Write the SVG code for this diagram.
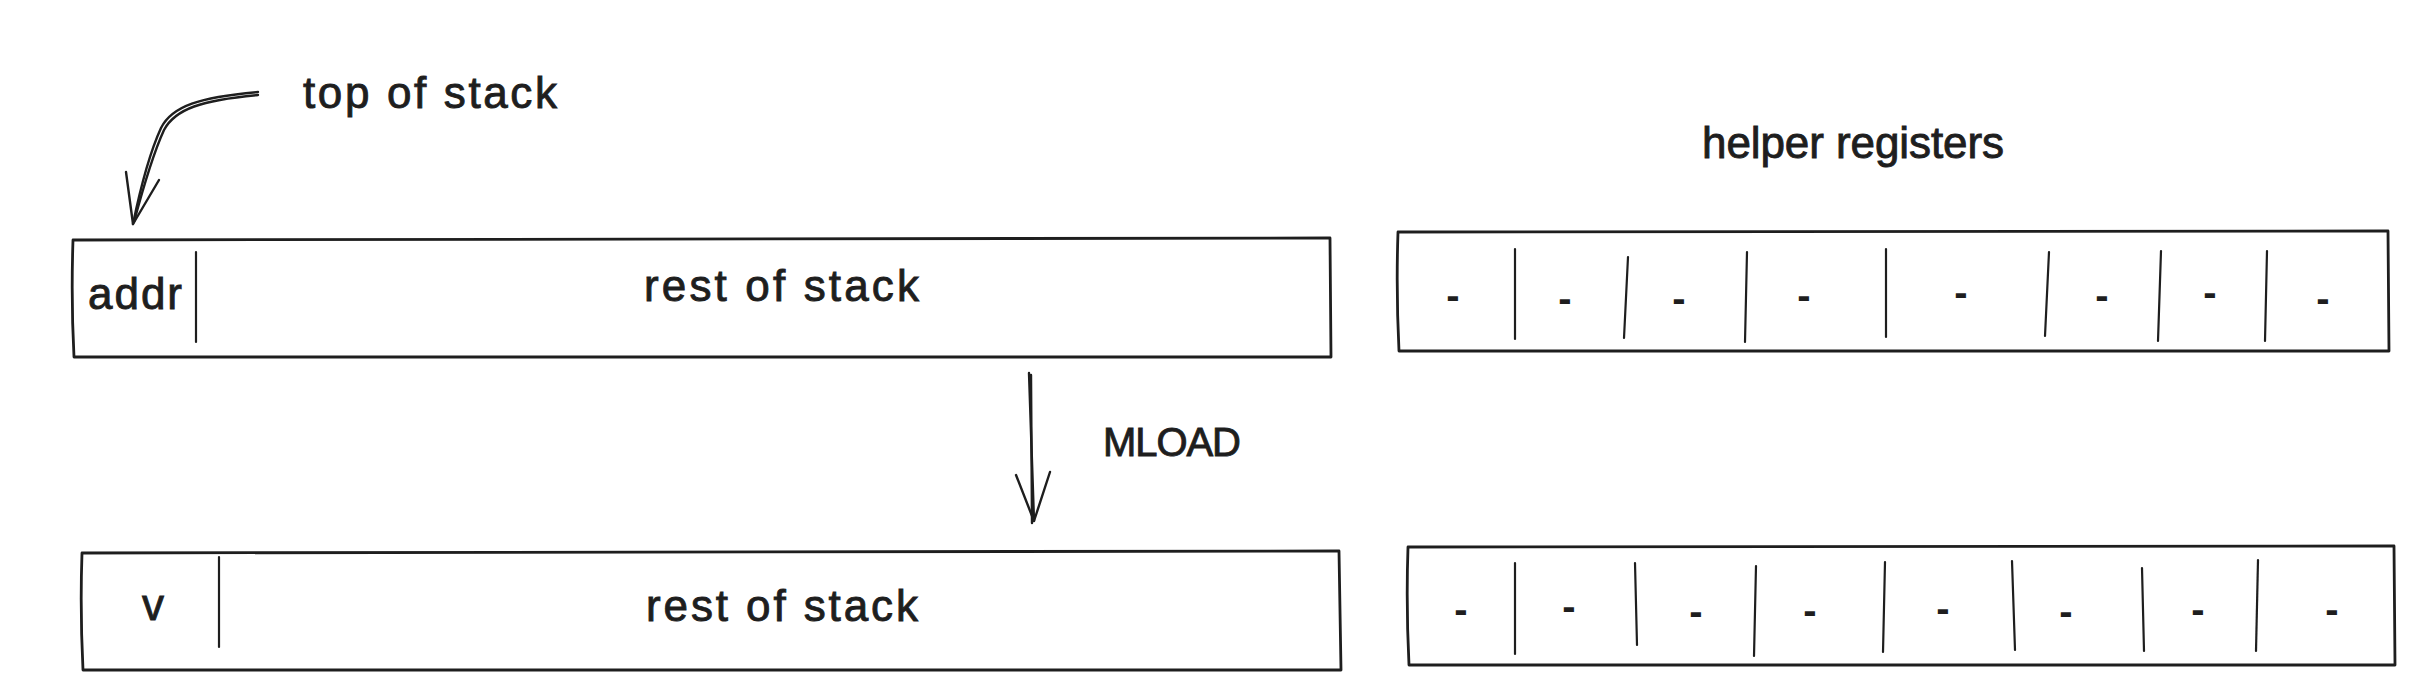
<svg xmlns="http://www.w3.org/2000/svg" width="2415" height="690" viewBox="0 0 2415 690">
<style>
.box{fill:none;stroke:#1e1e1e;stroke-width:2.8;stroke-linejoin:round}
.div{fill:none;stroke:#1e1e1e;stroke-width:2.2;stroke-linecap:round}
.arr{fill:none;stroke:#1e1e1e;stroke-width:2.4;stroke-linecap:round;stroke-linejoin:round}
.t{font-family:"Liberation Sans",Arial,sans-serif;font-size:44px;fill:#1e1e1e;stroke:#1e1e1e;stroke-width:0.9}
.m{font-family:"Liberation Sans",Arial,sans-serif;font-size:40px;fill:#1e1e1e;stroke:#1e1e1e;stroke-width:0.9}
.d{font-family:"Liberation Sans",Arial,sans-serif;font-size:40px;font-weight:bold;fill:#1e1e1e;text-anchor:middle}
</style>
<rect width="2415" height="690" fill="#ffffff"/>

<g id="label-top-of-stack">
<text class="t" x="303" y="108" textLength="254" lengthAdjust="spacing">top of stack</text>
</g>
<g id="label-helper-registers">
<text class="t" x="1702" y="158" textLength="302" lengthAdjust="spacing">helper registers</text>
</g>
<g id="label-mload">
<text class="m" x="1103" y="456" textLength="138" lengthAdjust="spacing">MLOAD</text>
</g>

<g id="stack-before">
<path class="box" d="M73,240 L1330,238 L1331,357 L74,357 Q71,300 73,240 Z"/>
<line class="div" x1="196" y1="252" x2="196" y2="342"/>
<text class="t" x="88" y="309" textLength="94" lengthAdjust="spacing">addr</text>
<text class="t" x="644" y="301" textLength="275" lengthAdjust="spacing">rest of stack</text>
</g>

<g id="registers-before">
<path class="box" d="M1398,232 L2388,231 L2389,351 L1399,351 Q1396,290 1398,232 Z"/>
<line class="div" x1="1515" y1="249" x2="1515" y2="339"/>
<line class="div" x1="1628" y1="257" x2="1624" y2="338"/>
<line class="div" x1="1747" y1="252" x2="1745" y2="342"/>
<line class="div" x1="1886" y1="249" x2="1886" y2="337"/>
<line class="div" x1="2049" y1="252" x2="2045" y2="336"/>
<line class="div" x1="2161" y1="251" x2="2158" y2="341"/>
<line class="div" x1="2267" y1="251" x2="2265" y2="341"/>
<text class="d" x="1453" y="309">-</text>
<text class="d" x="1565" y="312">-</text>
<text class="d" x="1679" y="312">-</text>
<text class="d" x="1804" y="309">-</text>
<text class="d" x="1961" y="306">-</text>
<text class="d" x="2102" y="309">-</text>
<text class="d" x="2210" y="306">-</text>
<text class="d" x="2323" y="312">-</text>
</g>

<g id="stack-after">
<path class="box" d="M82,553 L1339,551 L1341,670 L83,670 Q80,610 82,553 Z"/>
<line class="div" x1="219" y1="557" x2="219" y2="647"/>
<text class="t" x="142" y="620" textLength="24" lengthAdjust="spacing">v</text>
<text class="t" x="646" y="621" textLength="272" lengthAdjust="spacing">rest of stack</text>
</g>

<g id="registers-after">
<path class="box" d="M1408,547 L2394,546 L2395,665 L1409,665 Q1406,605 1408,547 Z"/>
<line class="div" x1="1515" y1="563" x2="1515" y2="654"/>
<line class="div" x1="1635" y1="563" x2="1637" y2="645"/>
<line class="div" x1="1756" y1="566" x2="1754" y2="656"/>
<line class="div" x1="1885" y1="562" x2="1883" y2="652"/>
<line class="div" x1="2012" y1="561" x2="2015" y2="650"/>
<line class="div" x1="2142" y1="568" x2="2144" y2="651"/>
<line class="div" x1="2258" y1="560" x2="2256" y2="651"/>
<text class="d" x="1461" y="623">-</text>
<text class="d" x="1569" y="620">-</text>
<text class="d" x="1696" y="625">-</text>
<text class="d" x="1810" y="624">-</text>
<text class="d" x="1943" y="622">-</text>
<text class="d" x="2066" y="625">-</text>
<text class="d" x="2198" y="623">-</text>
<text class="d" x="2332" y="623">-</text>
</g>

<g id="connectors">
<path class="arr" d="M258,92 C200,97 172,106 161,128 C150,152 140,190 133,224"/>
<path class="arr" d="M258,95 C202,100 175,109 164,130 C153,154 142,192 134,222"/>
<path class="arr" d="M126,172 L133,224 L159,180"/>
<path class="arr" d="M1029,373 L1034,521"/>
<path class="arr" d="M1031,375 L1032,523"/>
<path class="arr" d="M1016,475 L1034,521 L1050,472"/>
</g>
</svg>
